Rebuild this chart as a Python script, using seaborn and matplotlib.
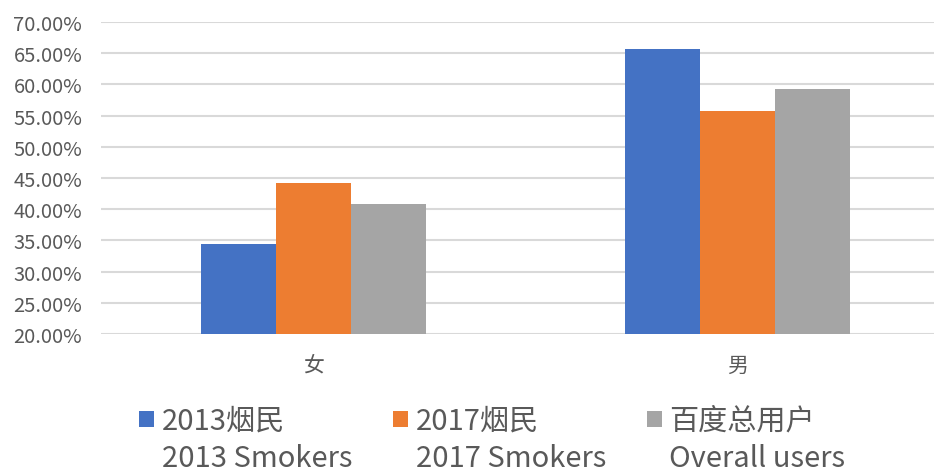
import matplotlib
matplotlib.use('Agg')
from matplotlib import pyplot as plt
from matplotlib.patches import Patch
from matplotlib.ticker import FuncFormatter, MultipleLocator
import seaborn as sns
import pandas as pd

# data
genders = ['女', '男']
series_cn = ['2013烟民', '2017烟民', '百度总用户']
series_en = ['2013 Smokers', '2017 Smokers', 'Overall users']
smokers_2013 = [34.4, 65.6]
smokers_2017 = [44.2, 55.8]
overall_users = [40.8, 59.2]
colors = ['#4472C4', '#ED7D31', '#A5A5A5']

rows = []
for name, vals in zip(series_cn, [smokers_2013, smokers_2017, overall_users]):
    for g, v in zip(genders, vals):
        rows.append({'gender': g, 'series': name, 'value': v})
df = pd.DataFrame(rows)

sns.set_style('white')
plt.rcParams['font.family'] = ['Noto Sans CJK SC', 'DejaVu Sans']
plt.rcParams['font.weight'] = 'light'
text_color = '#595959'

fig = plt.figure(figsize=(9.34, 4.77), dpi=100)
ax = fig.add_axes([101 / 934, 1 - 335 / 477, 849 / 934, 312 / 477])

sns.barplot(data=df, x='gender', y='value', hue='series', order=genders,
            hue_order=series_cn, palette=colors, saturation=1, width=0.53,
            gap=0, linewidth=0, ax=ax, legend=False)

ax.set_ylim(20, 70)
ax.set_xlim(-0.5, 1.5)
ax.yaxis.set_major_locator(MultipleLocator(5))
ax.yaxis.set_major_formatter(FuncFormatter(lambda v, p: f'{v:.2f}%'))
ax.grid(axis='y', color='#D9D9D9', linewidth=1.5)
ax.set_axisbelow(True)
for s in ax.spines.values():
    s.set_visible(False)
ax.set_xlabel('')
ax.set_ylabel('')
ax.tick_params(axis='y', length=0, pad=13.5, labelsize=14.5, labelcolor=text_color)
ax.tick_params(axis='x', length=0, pad=14, labelsize=15, labelcolor=text_color)

# legend: chinese line with marker, english line below
handles = [Patch(facecolor=c, edgecolor='none') for c in colors]
leg = fig.legend(handles, series_cn, ncol=3, loc='center left',
                 bbox_to_anchor=(139 / 934, 1 - 422 / 477), frameon=False,
                 borderpad=0, borderaxespad=0,
                 fontsize=21, labelcolor=text_color, handlelength=0.51,
                 handleheight=0.48, handletextpad=0.27, columnspacing=3.7)

fig.canvas.draw()
renderer = fig.canvas.get_renderer()
for t, en in zip(leg.get_texts(), series_en):
    bb = t.get_window_extent(renderer)
    fig.text(bb.x0 / fig.bbox.width, 1 - 459 / 477, en,
             fontsize=21, color=text_color, va='center', ha='left')

fig.savefig('out.png', dpi=100)
